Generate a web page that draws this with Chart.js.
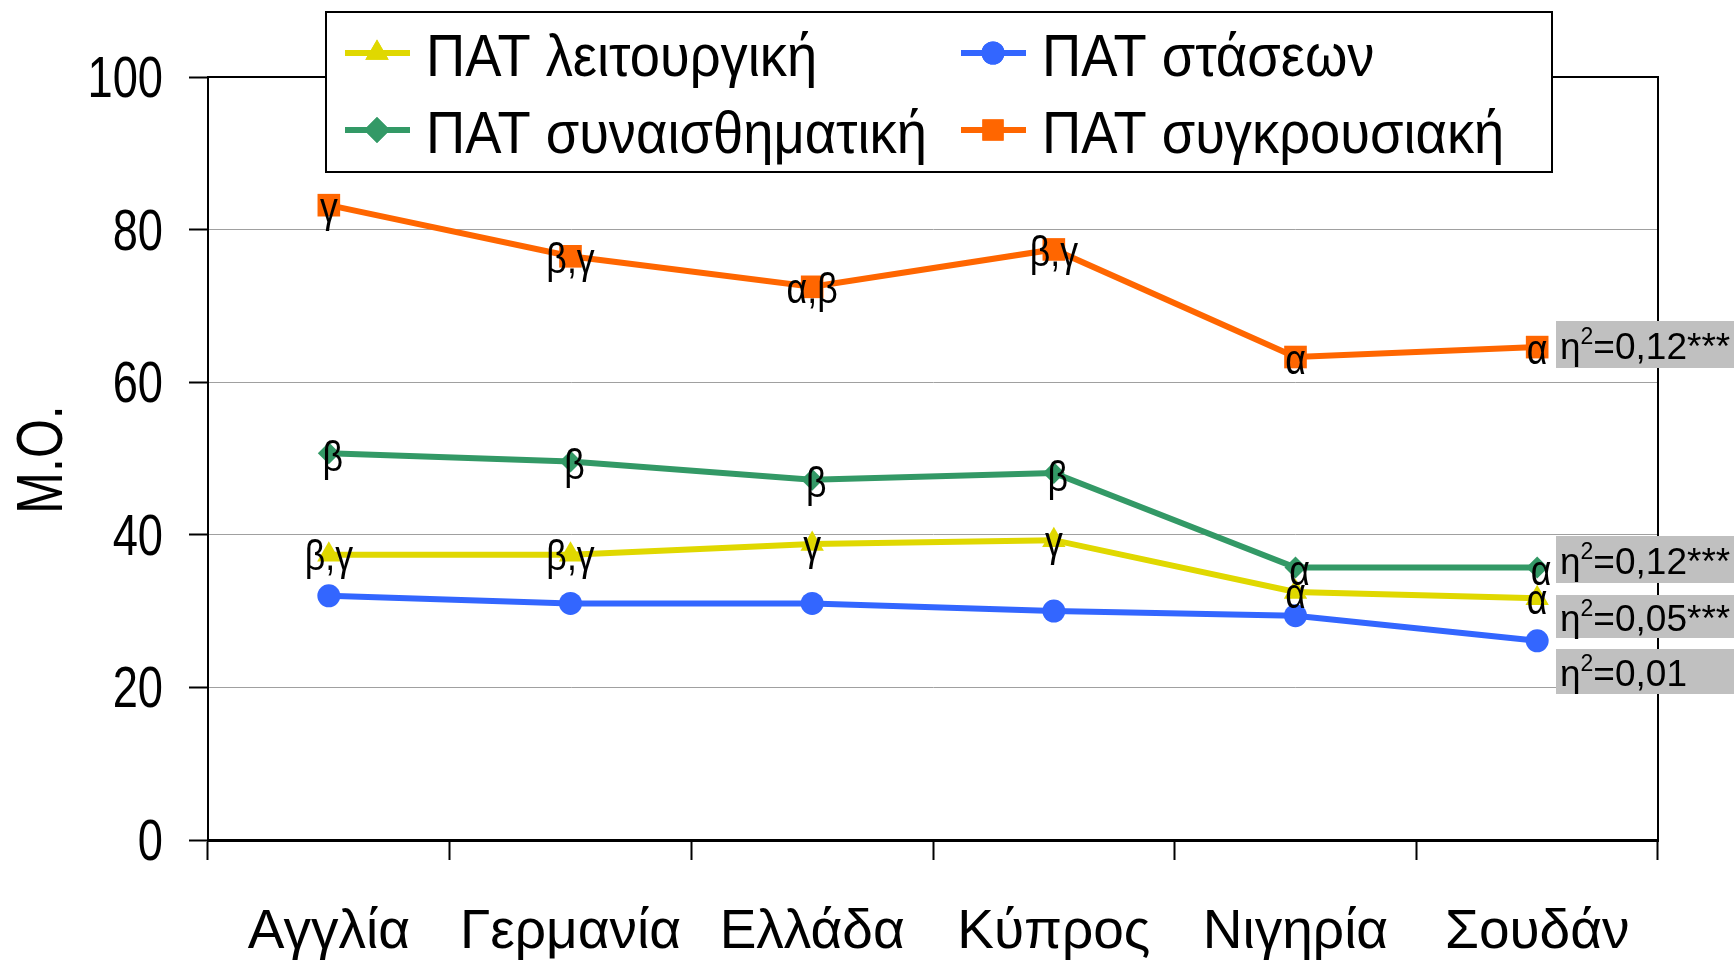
<!DOCTYPE html>
<html>
<head>
<meta charset="utf-8">
<script src="https://cdn.jsdelivr.net/npm/chart.js@4.4.1/dist/chart.umd.min.js"></script>
<style>
  body { margin: 0; background: #fff; }
</style>
</head>
<body>
<canvas id="myChart" width="1734" height="966"></canvas>
<script>
const countries = ['Αγγλία', 'Γερμανία', 'Ελλάδα', 'Κύπρος', 'Νιγηρία', 'Σουδάν'];

const leitourgiki = [37.4, 37.4, 38.8, 39.3, 32.5, 31.7];
const staseon = [32.0, 31.0, 31.0, 30.0, 29.4, 26.1];
const synaisthimatiki = [50.7, 49.6, 47.2, 48.1, 35.7, 35.7];
const sygkrousiaki = [83.2, 76.5, 72.5, 77.4, 63.3, 64.6];

// post-hoc letters next to each point
const letLeitourgiki = ['β,γ', 'β,γ', 'γ', 'γ', 'α', 'α'];
const letSynaisthimatiki = ['β', 'β', 'β', 'β', 'α', 'α'];
const letSygkrousiaki = ['γ', 'β,γ', 'α,β', 'β,γ', 'α', 'α'];

// eta squared, order: συγκρουσιακή, συναισθηματική, λειτουργική, στάσεων
const etaValues = ['0,12***', '0,12***', '0,05***', '0,01'];

const yTicks = [0, 20, 40, 60, 80, 100];

const SANS = "'Liberation Sans', Arial, sans-serif";

const YELLOW = '#E0D800';
const GREEN = '#339966';
const BLUE = '#3366FF';
const ORANGE = '#FF6600';

// text squeezed horizontally (the original uses a narrow face)
function narrowText(c, text, x, y, size, sx, align) {
  c.save();
  c.font = size + 'px ' + SANS;
  const w = c.measureText(text).width * sx;
  let left = x;
  if (align === 'center') left = x - w / 2;
  if (align === 'right') left = x - w;
  c.translate(left, y);
  c.scale(sx, 1);
  c.textAlign = 'left';
  c.fillText(text, 0, 0);
  c.restore();
}

const ctx = document.getElementById('myChart');

// axis labels and axis title
const axisTextPlugin = {
  id: 'axisText',
  afterDraw(chart) {
    const c = chart.ctx;
    const xs = chart.scales.x;
    const ys = chart.scales.y;
    c.save();
    c.fillStyle = '#000';
    c.textBaseline = 'alphabetic';
    ys.ticks.forEach((t, i) => {
      narrowText(c, String(t.value), 163, ys.getPixelForTick(i) + 20, 58, 0.78, 'right');
    });
    xs.ticks.forEach((t, i) => {
      narrowText(c, chart.data.labels[t.value], xs.getPixelForTick(i), 948, 55, 1.0, 'center');
    });
    c.translate(62, (chart.chartArea.top + chart.chartArea.bottom) / 2 + 1);
    c.rotate(-Math.PI / 2);
    narrowText(c, 'Μ.Ο.', 0, 0, 65, 0.77, 'center');
    c.restore();
  }
};

// letters drawn on the points
const letterPlugin = {
  id: 'letters',
  afterDatasetsDraw(chart) {
    const c = chart.ctx;
    c.save();
    c.fillStyle = '#000';
    c.textBaseline = 'middle';
    chart.data.datasets.forEach((ds, i) => {
      if (!ds.letters) return;
      const meta = chart.getDatasetMeta(i);
      meta.data.forEach((pt, j) => {
        narrowText(c, ds.letters[j], pt.x + (ds.letterDx || 0), pt.y + (ds.letterDy || 0), 42, 0.85, 'center');
      });
    });
    c.restore();
  }
};

// grey eta boxes on the right
const etaPlugin = {
  id: 'eta',
  afterDatasetsDraw(chart) {
    const c = chart.ctx;
    const centers = [344.5, 559.5, 616.5, 671.5];
    const heights = [47, 47, 43, 45];
    const x0 = chart.chartArea.right - 102;
    c.save();
    etaValues.forEach((txt, i) => {
      const cy = centers[i];
      c.fillStyle = '#C0C0C0';
      c.fillRect(x0, cy - heights[i] / 2, chart.width - x0, heights[i]);
      c.fillStyle = '#000';
      c.textBaseline = 'alphabetic';
      c.textAlign = 'left';
      let x = x0 + 4;
      const base = cy + 14;
      c.font = '37px ' + SANS;
      c.fillText('η', x, base);
      x += c.measureText('η').width;
      c.font = '23px ' + SANS;
      c.fillText('2', x, base - 15);
      x += c.measureText('2').width;
      c.font = '37px ' + SANS;
      c.fillText('=' + txt, x, base);
    });
    c.restore();
  }
};

// plot frame
const framePlugin = {
  id: 'frame',
  beforeDatasetsDraw(chart) {
    const a = chart.chartArea;
    const c = chart.ctx;
    c.save();
    c.strokeStyle = '#000';
    c.lineWidth = 2;
    c.beginPath();
    c.moveTo(a.left, a.top);
    c.lineTo(a.right, a.top);
    c.lineTo(a.right, a.bottom);
    c.stroke();
    c.restore();
  }
};

// legend box laid over the top of the plot
const legendPlugin = {
  id: 'customLegend',
  afterDraw(chart) {
    const c = chart.ctx;
    const cols = [345, 961];
    const rows = [53, 130];
    c.save();
    c.fillStyle = '#fff';
    c.fillRect(326, 12, 1226, 160);
    c.strokeStyle = '#000';
    c.lineWidth = 2;
    c.strokeRect(326, 12, 1226, 160);
    chart.data.datasets.forEach((ds, k) => {
      const x = cols[k % 2];
      const y = rows[Math.floor(k / 2)];
      c.strokeStyle = ds.borderColor;
      c.lineWidth = 6;
      c.beginPath();
      c.moveTo(x, y);
      c.lineTo(x + 65, y);
      c.stroke();
      c.fillStyle = ds.borderColor;
      Chart.helpers.drawPoint(c, {
        pointStyle: ds.pointStyle,
        radius: ds.legendRadius || ds.pointRadius,
        borderWidth: 0
      }, x + 32, y);
      c.fill();
      c.fillStyle = '#000';
      c.textBaseline = 'alphabetic';
      narrowText(c, ds.label, x + 81, y + 23, 60, 0.905, 'left');
    });
    c.restore();
  }
};

new Chart(ctx, {
  type: 'line',
  data: {
    labels: countries,
    datasets: [
      {
        label: 'ΠΑΤ λειτουργική',
        data: leitourgiki,
        borderColor: YELLOW,
        backgroundColor: YELLOW,
        pointStyle: 'triangle',
        pointRadius: 13.5,
        letters: letLeitourgiki,
        letterDy: 4
      },
      {
        label: 'ΠΑΤ στάσεων',
        data: staseon,
        borderColor: BLUE,
        backgroundColor: BLUE,
        pointStyle: 'circle',
        pointRadius: 11.5
      },
      {
        label: 'ΠΑΤ συναισθηματική',
        data: synaisthimatiki,
        borderColor: GREEN,
        backgroundColor: GREEN,
        pointStyle: 'rectRot',
        pointRadius: 11,
        legendRadius: 13,
        letters: letSynaisthimatiki,
        letterDx: 4,
        letterDy: 6
      },
      {
        label: 'ΠΑΤ συγκρουσιακή',
        data: sygkrousiaki,
        borderColor: ORANGE,
        backgroundColor: ORANGE,
        pointStyle: 'rect',
        pointRadius: 16,
        legendRadius: 15,
        letters: letSygkrousiaki,
        letterDy: 5
      }
    ]
  },
  options: {
    responsive: false,
    animation: false,
    elements: {
      line: { borderWidth: 6, tension: 0 },
      point: { borderWidth: 0 }
    },
    layout: { padding: { top: 77, right: 76, left: 0, bottom: 0 } },
    plugins: {
      legend: { display: false },
      tooltip: { enabled: false }
    },
    scales: {
      x: {
        offset: true,
        grid: {
          offset: true,
          drawOnChartArea: false,
          tickLength: 20,
          tickColor: '#000',
          tickWidth: 2
        },
        border: { color: '#000', width: 3 },
        ticks: { display: false },
        afterFit(scale) { scale.height = 126; }
      },
      y: {
        min: 0,
        max: 100,
        afterBuildTicks(scale) { scale.ticks = yTicks.map(v => ({ value: v })); },
        grid: {
          color: '#A0A0A0',
          lineWidth: 1,
          tickLength: 19,
          tickColor: '#000',
          tickWidth: 2
        },
        border: { color: '#000', width: 2 },
        ticks: { display: false },
        afterFit(scale) { scale.width = 208; }
      }
    }
  },
  plugins: [framePlugin, letterPlugin, etaPlugin, legendPlugin, axisTextPlugin]
});
</script>
</body>
</html>
